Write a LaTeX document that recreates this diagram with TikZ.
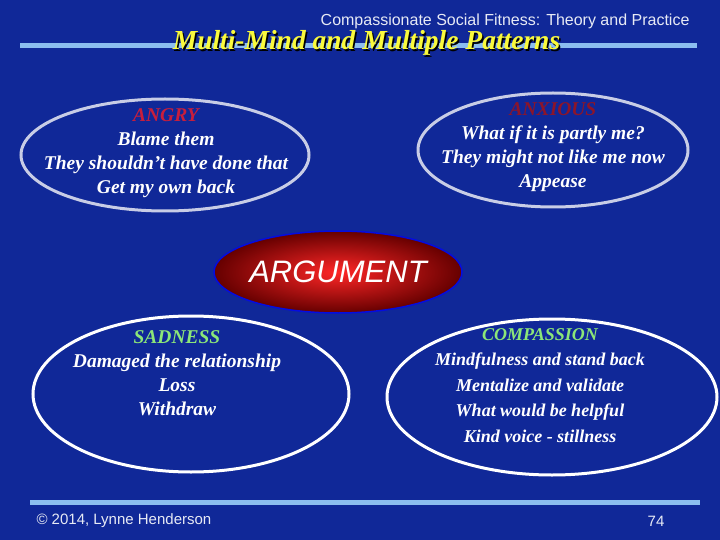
\documentclass[tikz,border=0pt]{standalone}
\usepackage{fontspec}
\setmainfont{Liberation Serif}
\newfontfamily\sans{Liberation Sans}
\definecolor{bg}{RGB}{16,40,152}
\definecolor{bar}{RGB}{140,190,240}
\definecolor{topring}{RGB}{200,205,230}
\definecolor{angryred}{RGB}{200,30,60}
\definecolor{sadgreen}{RGB}{140,230,120}
\definecolor{ttl}{RGB}{250,250,60}
\begin{document}
\begin{tikzpicture}[x=1pt,y=-1pt,
  body/.style={font=\fontsize{19.5}{24}\selectfont\bfseries\itshape, text=white, align=center},
]
\usetikzlibrary{shapes.geometric}
\fill[bg] (0,0) rectangle (720,540);
\useasboundingbox (0,0) rectangle (720,540);
\fill[bar] (20,43) rectangle (697,48);
\fill[bar] (30,500) rectangle (700,505);
\node[font=\sans\fontsize{16}{18}\selectfont, text=white!90!bg, anchor=east] (hdr) at (693,21) {Compassionate Social Fitness: Theory and Practice};
\node[font=\fontsize{27.5}{30}\selectfont\bfseries\itshape, text=black] at (368,44.5) {Multi-Mind and Multiple Patterns};
\node[font=\fontsize{27.5}{30}\selectfont\bfseries\itshape, text=ttl] (title) at (366.5,43) {Multi-Mind and Multiple Patterns};
\draw[topring, line width=3pt] (165,155) ellipse [x radius=144, y radius=56];
\draw[topring, line width=3pt] (553,150) ellipse [x radius=135, y radius=57];
\draw[white, line width=3pt] (191,394) ellipse [x radius=158, y radius=78];
\draw[white, line width=3pt] (552,397) ellipse [x radius=165, y radius=78];
\shade[inner color=red!85!white, outer color=red!40!black, draw=blue!70!bg, line width=1.5pt] (338,272) ellipse [x radius=124, y radius=41];
\node[font=\sans\itshape\fontsize{31}{34}\selectfont, text=white] (arg) at (338,272) {ARGUMENT};
\node[body, anchor=north] (angry) at (166,105) {\textcolor{angryred}{ANGRY}\\Blame them\\They shouldn't have done that\\Get my own back};
\node[body, anchor=north] (anx) at (553,99) {\textcolor{angryred!70!black}{ANXIOUS}\\What if it is partly me?\\They might not like me now\\Appease};
\node[body, anchor=north] (sad) at (177,327) {\textcolor{sadgreen}{SADNESS}\\Damaged the relationship\\Loss\\Withdraw};
\node[body, font=\fontsize{18}{25.5}\selectfont\bfseries\itshape, anchor=north] (comp) at (540,325) {\textcolor{sadgreen}{COMPASSION}\\Mindfulness and stand back\\Mentalize and validate\\What would be helpful\\Kind voice - stillness};
\node[font=\sans\fontsize{15}{18}\selectfont, text=white!90!bg, anchor=west] (copy) at (33,521) {\textcopyright{} 2014, Lynne Henderson};
\node[font=\sans\fontsize{15}{18}\selectfont, text=white!90!bg] (pg) at (656,521) {74};
\end{tikzpicture}
\end{document}
